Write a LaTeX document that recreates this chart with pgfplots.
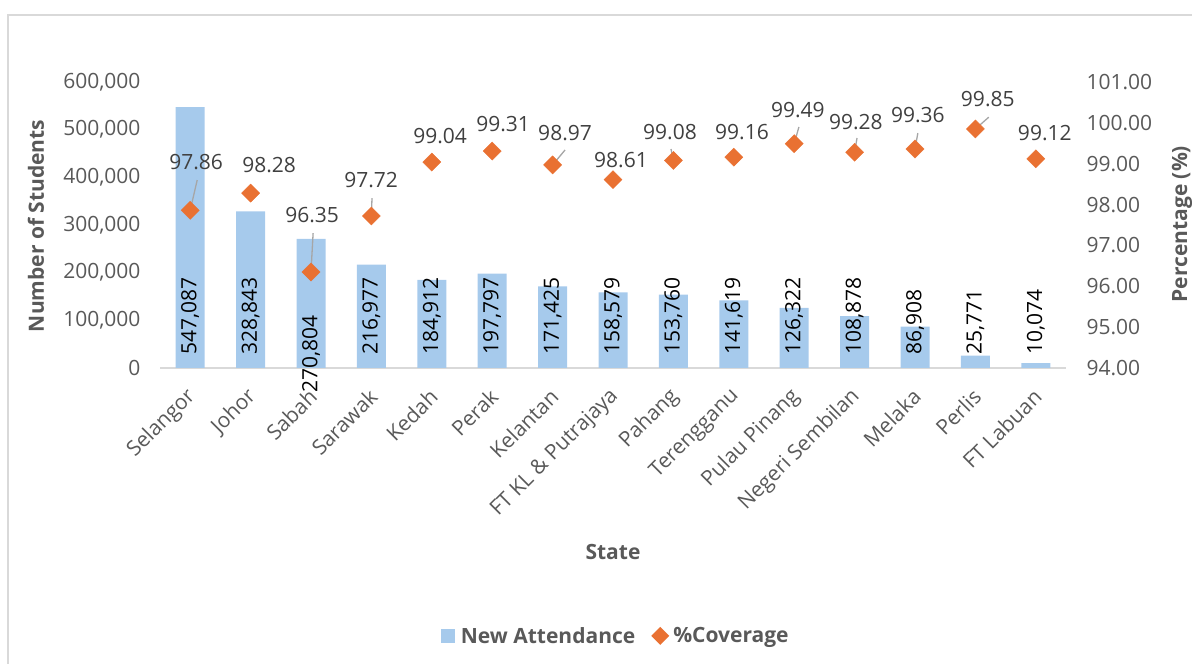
\documentclass[border=0pt]{standalone}
\usepackage{pgfplots}
\pgfplotsset{compat=1.18}
\usepackage{pgfplotstable}
\usepackage{fontspec}
\setmainfont{Open Sans}
\definecolor{barblue}{HTML}{A6CAEC}
\definecolor{dorange}{HTML}{E97132}
\definecolor{txtgray}{HTML}{595959}
\definecolor{lblgray}{HTML}{404040}
\definecolor{framegray}{HTML}{D9D9D9}
\definecolor{leadgray}{HTML}{A6A6A6}
\pgfplotstableread{
idx n nlab ny p lx ly u v
0 547087 547,087 27273 97.86 0.099 99.04 0.116 0.74
1 328843 328,843 27273 98.28 1.307 98.97 0 0
2 270804 270,804 -52448 96.35 2.019 97.745 0.035 0.95
3 216977 216,977 27273 97.72 2.995 98.60 0.01 0.44
4 184912 184,912 27273 99.04 4.137 99.68 0 0
5 197797 197,797 27273 99.31 5.180 99.97 0 0
6 171425 171,425 27273 98.97 6.206 99.75 0.206 0.366
7 158579 158,579 27273 98.61 7.132 99.09 0 0
8 153760 153,760 27273 99.08 7.943 99.776 -0.04 0.28
9 141619 141,619 27273 99.16 9.135 99.776 0 0
10 126322 126,322 27273 99.49 10.061 100.315 0.078 0.41
11 108878 108,878 27273 99.28 11.021 100.02 0.04 0.35
12 86908 86,908 27273 99.36 12.047 100.19 0.047 0.39
13 25771 25,771 27273 99.85 13.205 100.58 0.222 0.29
14 10074 10,074 27273 99.12 14.149 99.75 0 0
}\data
\begin{document}
\begin{tikzpicture}[x=1pt,y=1pt]
\useasboundingbox (0,0) rectangle (1192,664);
\draw[framegray, line width=2pt] (8,0) -- (8,649) -- (1192,649);
\begin{axis}[
  at={(160pt,296pt)}, anchor=south west,
  scale only axis, width=906pt, height=286pt,
  xmin=-0.5, xmax=14.5, ymin=0, ymax=600000,
  clip=false,
  axis x line*=bottom, axis y line*=left,
  y axis line style={draw=none},
  x axis line style={draw=framegray, line width=1.5pt, -},
  major tick length=0pt,
  xtick={0,...,14},
  xticklabels={Selangor,Johor,Sabah,Sarawak,Kedah,Perak,Kelantan,{FT KL \& Putrajaya},Pahang,Terengganu,Pulau Pinang,Negeri Sembilan,Melaka,Perlis,FT Labuan},
  xticklabel style={yshift=-25pt, xshift=2pt, rotate=45, anchor=east, inner sep=0pt},
  ytick={0,100000,200000,300000,400000,500000,600000},
  scaled y ticks=false,
  /pgf/number format/assume math mode=true,
  yticklabel style={/pgf/number format/fixed, /pgf/number format/1000 sep={,}, xshift=-16pt},
  tick label style={font=\fontsize{21}{25}\selectfont, text=txtgray},
  xlabel={State},
  xlabel style={at={(axis description cs:0.5,-0.643)}, anchor=center, font=\fontsize{21}{25}\selectfont\bfseries, text=txtgray},
  ylabel={Number of Students},
  ylabel style={at={(axis description cs:-0.137,0.497)}, anchor=center, font=\fontsize{21}{25}\selectfont\bfseries, text=txtgray},
  legend style={at={(axis description cs:0.503,-0.937)}, anchor=center, draw=none, fill=none, legend columns=2, font=\fontsize{21}{25}\selectfont\bfseries, text=txtgray, /tikz/every even column/.append style={column sep=14pt}},
]
\addplot[ybar, bar width=29pt, fill=barblue, draw=none,
  legend image code/.code={\fill[barblue] (0pt,-7pt) rectangle (14pt,7pt); \path[draw=none,fill=none] (0pt,0pt) -- (18pt,0pt);}]
  table[x=idx, y=n]{\data};
\addlegendentry{New Attendance}
\addlegendimage{draw=none, legend image code/.code={\fill[dorange] (0pt,0pt) -- (9pt,-9pt) -- (18pt,0pt) -- (9pt,9pt) -- cycle; \path[draw=none,fill=none] (0pt,0pt) -- (20pt,0pt);}}
\addlegendentry{\%Coverage}
\addplot[only marks, mark=text, text mark={}, forget plot,
  nodes near coords, point meta=explicit symbolic,
  nodes near coords style={rotate=90, anchor=west, inner sep=0pt, font=\fontsize{21}{25}\selectfont, text=black}]
  table[x=idx, y=ny, meta=nlab]{\data};
\end{axis}
\begin{axis}[
  at={(160pt,296pt)}, anchor=south west,
  scale only axis, width=906pt, height=286pt,
  xmin=-0.5, xmax=14.5, ymin=94, ymax=101,
  clip=false,
  axis x line=none, axis y line*=right,
  y axis line style={draw=none},
  major tick length=0pt,
  ytick={94,95,96,97,98,99,100,101},
  /pgf/number format/assume math mode=true,
  yticklabel style={/pgf/number format/fixed, /pgf/number format/fixed zerofill, /pgf/number format/precision=2, xshift=17pt},
  tick label style={font=\fontsize{21}{25}\selectfont, text=txtgray},
  ylabel={Percentage (\%)},
  ylabel style={at={(axis description cs:1.128,0.503)}, anchor=center, font=\fontsize{21}{25}\selectfont\bfseries, text=txtgray},
]
\addplot[only marks, mark=square*, mark size=6.4pt, mark options={rotate=45, fill=dorange, draw=dorange}]
  table[x=idx, y=p]{\data};
\addplot[leadgray, line width=1.3pt, quiver={u=\thisrow{u}, v=\thisrow{v}}, forget plot]
  table[x=idx, y=p]{\data};
\addplot[only marks, mark=text, text mark={}, forget plot,
  nodes near coords, point meta=explicit symbolic,
  nodes near coords style={anchor=center, inner sep=0pt, font=\fontsize{21}{25}\selectfont, text=lblgray}]
  table[x=lx, y=ly, meta=p]{\data};
\end{axis}
\end{tikzpicture}
\end{document}
